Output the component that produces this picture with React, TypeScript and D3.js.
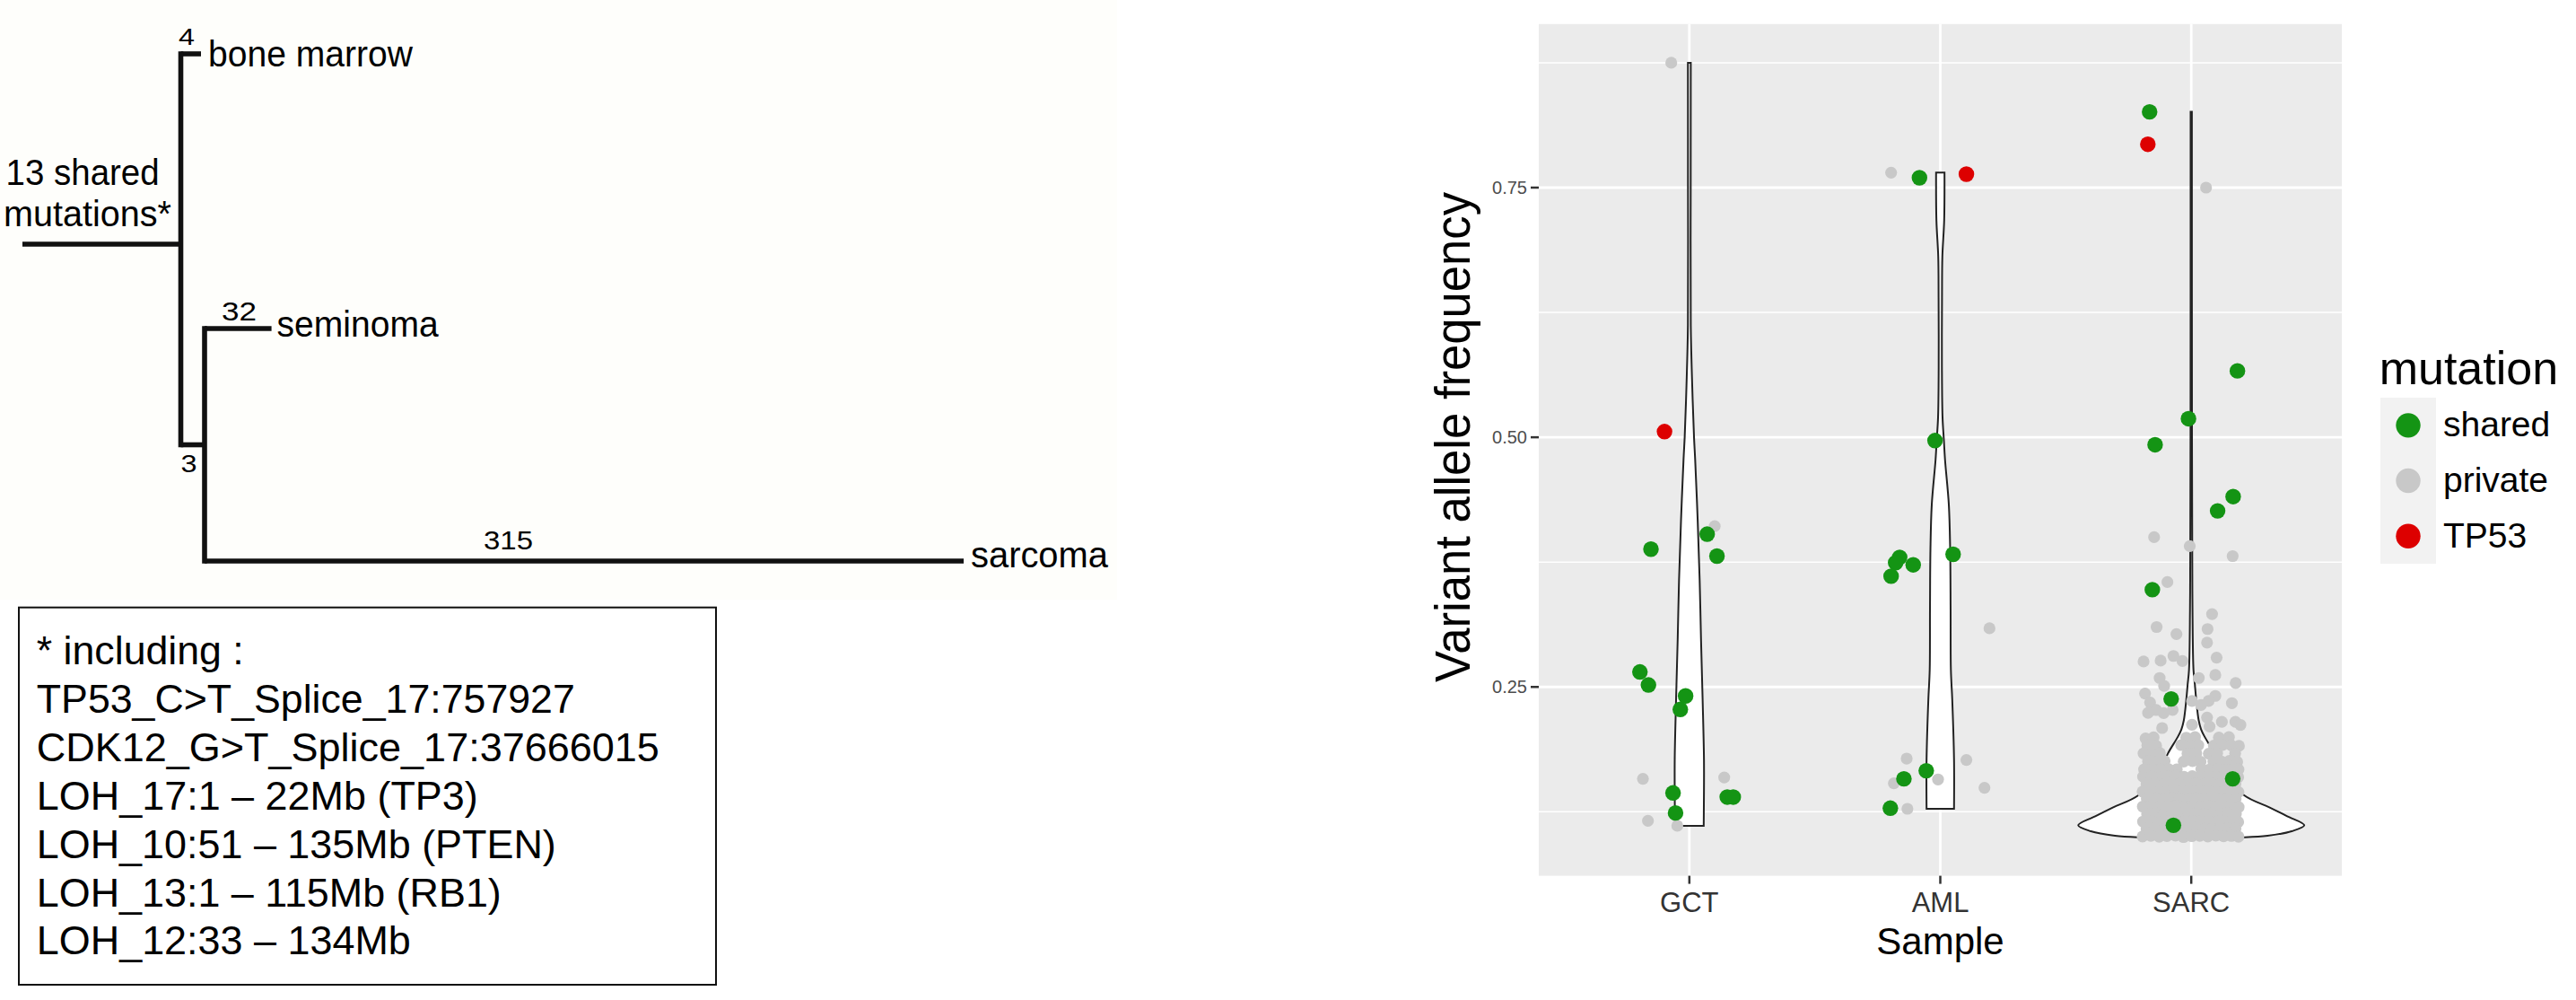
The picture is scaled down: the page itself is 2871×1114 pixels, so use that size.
import React from "react";
import * as d3 from "d3";

const W = 2871;
const H = 1114;
const FONT = "'Liberation Sans', Arial, Helvetica, sans-serif";

/* ---------------- phylogenetic tree (left) ---------------- */
// depth and row (tree display units)
const treeNodes = [
  { id: "origin", parent: "", depth: 0, row: 272, count: 0 },
  { id: "N1", parent: "origin", depth: 176.5, row: 272, count: 13 },
  { id: "bone marrow", parent: "N1", depth: 199, row: 60, count: 4 },
  { id: "N2", parent: "N1", depth: 203, row: 495.5, count: 3 },
  { id: "seminoma", parent: "N2", depth: 277.6, row: 366, count: 32 },
  { id: "sarcoma", parent: "N2", depth: 1049, row: 625, count: 315 },
];
const leafNames = ["bone marrow", "seminoma", "sarcoma"];
const leafWidths = [228, 180, 153];
const leafBaselineShift = [14, 9, 7];
const rootLabelLines = ["13 shared", "mutations*"];
const rootLabelWidths = [171, 187];
const footnoteLines = [
  "* including :",
  "TP53_C>T_Splice_17:757927",
  "CDK12_G>T_Splice_17:37666015",
  "LOH_17:1 \u2013 22Mb (TP3)",
  "LOH_10:51 \u2013 135Mb (PTEN)",
  "LOH_13:1 \u2013 115Mb (RB1)",
  "LOH_12:33 \u2013 134Mb",
];
const footnoteWidths = [231, 600, 694, 492, 579, 518, 417];

/* ---------------- violin + jitter chart (right) ---------------- */
const samples = ["GCT", "AML", "SARC"];
const mutationTypes = ["shared", "private", "TP53"];
const typeColors = ["#149414", "#C8C8C8", "#DD0000"];
const typeRadius = [8.7, 6.6, 8.7];
const yTicks = [0.25, 0.5, 0.75];
const yTickLabels = ["0.25", "0.50", "0.75"];
const yMinorTicks = [0.125, 0.375, 0.625, 0.875];

// [jitter offset (category units), VAF, type]
const gctPoints: [number, number, string][] = [
  [-0.072, 0.875, "private"],
  [0.101, 0.411, "private"],
  [-0.185, 0.158, "private"],
  [0.139, 0.1594, "private"],
  [-0.165, 0.116, "private"],
  [-0.048, 0.111, "private"],
  [0.071, 0.403, "shared"],
  [-0.153, 0.388, "shared"],
  [0.11, 0.381, "shared"],
  [-0.197, 0.265, "shared"],
  [-0.163, 0.252, "shared"],
  [-0.015, 0.241, "shared"],
  [-0.036, 0.2275, "shared"],
  [-0.065, 0.1439, "shared"],
  [0.151, 0.1397, "shared"],
  [0.175, 0.1397, "shared"],
  [-0.055, 0.1238, "shared"],
  [-0.099, 0.5057, "TP53"],
];

const amlPoints: [number, number, string][] = [
  [-0.196, 0.765, "private"],
  [0.196, 0.3087, "private"],
  [-0.134, 0.1783, "private"],
  [0.104, 0.1769, "private"],
  [-0.009, 0.1574, "private"],
  [-0.185, 0.1535, "private"],
  [0.176, 0.149, "private"],
  [-0.131, 0.128, "private"],
  [-0.083, 0.7599, "shared"],
  [-0.021, 0.4967, "shared"],
  [-0.162, 0.3798, "shared"],
  [-0.178, 0.3744, "shared"],
  [-0.108, 0.3723, "shared"],
  [-0.196, 0.3609, "shared"],
  [0.051, 0.3828, "shared"],
  [-0.056, 0.1661, "shared"],
  [-0.145, 0.158, "shared"],
  [-0.199, 0.1286, "shared"],
  [0.104, 0.7635, "TP53"],
];

const sarcShared: [number, number, string][] = [
  [-0.166, 0.8258, "shared"],
  [0.184, 0.5665, "shared"],
  [-0.011, 0.5186, "shared"],
  [-0.144, 0.4925, "shared"],
  [0.167, 0.4406, "shared"],
  [0.105, 0.4263, "shared"],
  [-0.155, 0.3474, "shared"],
  [-0.08, 0.238, "shared"],
  [0.165, 0.158, "shared"],
  [-0.071, 0.1115, "shared"],
  [-0.173, 0.7934, "TP53"],
];

// private SARC mutations: [jitter offset, VAF]
const sarcPrivate: [number, number][] = [
  [0.059, 0.75], [-0.148, 0.4], [-0.006, 0.391], [0.165, 0.381], [-0.095, 0.355],
  [0.083, 0.323], [0.065, 0.308], [-0.138, 0.31], [-0.059, 0.303], [0.063, 0.2944],
  [-0.19, 0.2755], [-0.122, 0.2764], [-0.071, 0.281], [-0.035, 0.276], [0.101, 0.2794],
  [0.096, 0.262], [0.03, 0.259], [-0.126, 0.259], [0.177, 0.254], [-0.108, 0.251],
  [-0.184, 0.2434], [-0.164, 0.2344], [0.096, 0.241], [0.069, 0.2359], [0.003, 0.2359],
  [0.039, 0.232], [0.162, 0.2338], [-0.14, 0.2269], [-0.11, 0.2239], [-0.074, 0.227],
  [-0.172, 0.224], [0.063, 0.2194], [0.122, 0.215], [0.176, 0.215], [0.196, 0.212],
  [-0.182, 0.1985], [-0.116, 0.2089], [0.003, 0.2122], [0.073, 0.2104],
  // 0.165 - 0.20
  [-0.15, 0.1995], [-0.02, 0.1992], [0.015, 0.1998], [0.11, 0.1994], [0.15, 0.1997],
  [-0.175, 0.1915], [-0.14, 0.1911], [-0.04, 0.1918], [-0.005, 0.1913], [0.028, 0.1917],
  [0.09, 0.1912], [0.125, 0.1919], [0.16, 0.1914], [0.19, 0.191],
  [-0.19, 0.1835], [-0.158, 0.1831], [-0.125, 0.1838], [-0.015, 0.1833], [0.02, 0.1837],
  [0.07, 0.1832], [0.103, 0.1836], [0.175, 0.1834],
  [-0.172, 0.1755], [-0.14, 0.1751], [-0.106, 0.1758], [-0.03, 0.1753], [0.005, 0.1757],
  [0.037, 0.1752], [0.088, 0.1756], [0.12, 0.1754], [0.152, 0.1759], [0.183, 0.175],
  [-0.188, 0.1675], [-0.155, 0.1679], [-0.122, 0.1672], [-0.09, 0.1677], [-0.058, 0.1674],
  [0.04, 0.1678], [0.072, 0.1673], [0.104, 0.1676], [0.136, 0.1671], [0.168, 0.1679], [0.188, 0.1674],
  // dense mass 0.10 - 0.163
  [-0.192, 0.1602], [-0.159, 0.1609], [-0.126, 0.1598], [-0.094, 0.1606], [-0.061, 0.1611],
  [-0.029, 0.16], [0.004, 0.1607], [0.036, 0.1603], [0.068, 0.161], [0.1, 0.1599],
  [0.131, 0.1608], [0.162, 0.1604], [0.187, 0.1597],
  [-0.178, 0.1528], [-0.145, 0.1535], [-0.112, 0.1524], [-0.08, 0.1537], [-0.047, 0.1531],
  [-0.015, 0.1526], [0.018, 0.1534], [0.05, 0.1529], [0.082, 0.1533], [0.113, 0.1525],
  [0.145, 0.1536], [0.176, 0.153],
  [-0.194, 0.1452], [-0.161, 0.1459], [-0.128, 0.145], [-0.096, 0.1457], [-0.063, 0.1462],
  [-0.031, 0.1451], [0.002, 0.1458], [0.034, 0.1454], [0.066, 0.1461], [0.098, 0.1449],
  [0.129, 0.1456], [0.16, 0.1453], [0.188, 0.1448],
  [-0.177, 0.1378], [-0.144, 0.1384], [-0.111, 0.1375], [-0.079, 0.1387], [-0.046, 0.1381],
  [-0.014, 0.1376], [0.019, 0.1385], [0.051, 0.1379], [0.083, 0.1383], [0.114, 0.1374],
  [0.146, 0.1386], [0.177, 0.138],
  [-0.193, 0.1302], [-0.16, 0.1309], [-0.127, 0.1298], [-0.095, 0.1306], [-0.062, 0.1311],
  [-0.03, 0.13], [0.003, 0.1307], [0.035, 0.1303], [0.067, 0.131], [0.099, 0.1299],
  [0.13, 0.1308], [0.161, 0.1304], [0.189, 0.1297],
  [-0.176, 0.1228], [-0.143, 0.1234], [-0.11, 0.1225], [-0.078, 0.1237], [-0.045, 0.1231],
  [-0.013, 0.1226], [0.02, 0.1235], [0.052, 0.1229], [0.084, 0.1233], [0.115, 0.1224],
  [0.147, 0.1236], [0.178, 0.123],
  [-0.192, 0.1152], [-0.159, 0.116], [-0.126, 0.1149], [-0.094, 0.1157], [-0.06, 0.1163],
  [-0.029, 0.115], [0.004, 0.1158], [0.036, 0.1154], [0.068, 0.1161], [0.1, 0.1151],
  [0.131, 0.1159], [0.162, 0.1155], [0.187, 0.1148],
  [-0.178, 0.1078], [-0.146, 0.1085], [-0.112, 0.1074], [-0.08, 0.1089], [-0.047, 0.1081],
  [-0.015, 0.1076], [0.018, 0.1087], [0.05, 0.1079], [0.083, 0.1083], [0.113, 0.1075],
  [0.145, 0.1086], [0.176, 0.108],
  [-0.194, 0.1003], [-0.161, 0.101], [-0.128, 0.1001], [-0.097, 0.1007], [-0.063, 0.1012],
  [-0.031, 0.0997], [0.002, 0.1006], [0.034, 0.1009], [0.066, 0.1002], [0.098, 0.1011],
  [0.129, 0.1004], [0.16, 0.1008], [0.188, 0.1001],
];

// violin half-widths (category units): [VAF, half width]
const gctViolin: [number, number][] = [
  [0.111, 0.0572], [0.1325, 0.0579], [0.177, 0.0583], [0.2374, 0.0529], [0.2975, 0.0465],
  [0.357, 0.0411], [0.417, 0.0332], [0.4775, 0.0232], [0.5, 0.0186], [0.552, 0.0114],
  [0.612, 0.0057], [0.75, 0.0054], [0.875, 0.0057],
];
const amlViolin: [number, number][] = [
  [0.128, 0.0547], [0.1774, 0.0547], [0.2374, 0.0476], [0.267, 0.0422], [0.327, 0.0411],
  [0.3876, 0.0393], [0.4326, 0.034], [0.477, 0.019], [0.497, 0.0143], [0.52, 0.0089],
  [0.57, 0.0064], [0.64, 0.0068], [0.681, 0.0082], [0.717, 0.0154], [0.765, 0.0168],
];
const sarcViolin: [number, number][] = [
  [0.0995, 0.2145], [0.101, 0.304], [0.1055, 0.4], [0.1115, 0.4505], [0.1205, 0.3826],
  [0.1295, 0.311], [0.1415, 0.211], [0.1654, 0.125], [0.1834, 0.093], [0.2, 0.0536],
  [0.2075, 0.0393], [0.2165, 0.0297], [0.2374, 0.0197], [0.2527, 0.0143], [0.267, 0.0089],
  [0.327, 0.005], [0.3876, 0.0039], [0.5, 0.0029], [0.826, 0.0025],
];

export default function App() {
  /* ----- tree scales ----- */
  const tx = d3.scaleLinear().domain([0, 1049]).range([25, 1074]);
  const ty = d3.scaleLinear().domain([0, H]).range([0, H]);
  const byId = new Map(treeNodes.map((n) => [n.id, n]));
  const children = d3.group(treeNodes.filter((n) => n.parent), (n) => n.parent);
  const treeSW = 5.6;

  const treePaths: string[] = [];
  treeNodes.forEach((n) => {
    if (!n.parent) return;
    const p = byId.get(n.parent)!;
    treePaths.push(`M${tx(p.depth)},${ty(n.row)}H${tx(n.depth)}`);
  });
  children.forEach((kids, pid) => {
    const p = byId.get(pid)!;
    if (kids.length < 2) return;
    const ext = d3.extent(kids, (k) => k.row) as [number, number];
    treePaths.push(`M${tx(p.depth)},${ty(ext[0]) - treeSW / 2}V${ty(ext[1]) + treeSW / 2}`);
  });

  /* ----- chart scales ----- */
  const panel = { left: 1715, right: 2610, top: 26.8, bottom: 975.6 };
  const allVaf = [
    ...gctPoints.map((d) => d[1]),
    ...amlPoints.map((d) => d[1]),
    ...sarcShared.map((d) => d[1]),
    ...sarcPrivate.map((d) => d[1]),
  ];
  const [vmin, vmax] = d3.extent(allVaf) as [number, number];
  const pad = (vmax - vmin) * 0.05;
  const y = d3.scaleLinear().domain([vmin - pad, vmax + pad]).range([panel.bottom, panel.top]);
  const x = d3.scalePoint<string>().domain(samples).range([panel.left, panel.right]).padding(0.6);
  const step = x.step();
  const color = d3.scaleOrdinal<string, string>().domain(mutationTypes).range(typeColors);
  const radius = d3.scaleOrdinal<string, number>().domain(mutationTypes).range(typeRadius);

  const violins: [string, [number, number][]][] = [
    ["GCT", gctViolin],
    ["AML", amlViolin],
    ["SARC", sarcViolin],
  ];
  const violinPath = (cat: string, prof: [number, number][]) =>
    d3
      .area<[number, number]>()
      .y((d) => y(d[0]))
      .x0((d) => (x(cat) as number) - d[1] * step)
      .x1((d) => (x(cat) as number) + d[1] * step)
      .curve(d3.curveCatmullRom.alpha(0.5))(prof) as string;

  type Pt = { cat: string; dx: number; v: number; t: string };
  const pts: Pt[] = [
    ...gctPoints.map((d) => ({ cat: "GCT", dx: d[0], v: d[1], t: d[2] })),
    ...amlPoints.map((d) => ({ cat: "AML", dx: d[0], v: d[1], t: d[2] })),
    ...sarcPrivate.map((d) => ({ cat: "SARC", dx: d[0], v: d[1], t: "private" })),
    ...sarcShared.map((d) => ({ cat: "SARC", dx: d[0], v: d[1], t: d[2] })),
  ];
  const order = (t: string) => (t === "private" ? 0 : t === "shared" ? 1 : 2);
  const sortedPts = pts.slice().sort((a, b) => order(a.t) - order(b.t));

  const legend = { x: 2653, y: 443, keyW: 62, keyH: 61.7 };

  return (
    <div>
      <style>{`body{margin:0;padding:0;overflow:hidden;background:#fff}`}</style>
      <svg width={W} height={H} style={{ display: "block" }} fontFamily={FONT}>
        <rect x={0} y={0} width={W} height={H} fill="#ffffff" />
        {/* ---------- tree ---------- */}
        <rect x={0} y={0} width={1245} height={668} fill="#FEFEFB" />
        <g stroke="#111" strokeWidth={treeSW} fill="none">
          {treePaths.map((d, i) => (
            <path key={i} d={d} />
          ))}
        </g>
        {/* branch counts */}
        <text x={208} y={50} fontSize={26} textAnchor="middle" textLength={18} lengthAdjust="spacingAndGlyphs">
          {byId.get("bone marrow")!.count}
        </text>
        <text x={210.5} y={526} fontSize={28} textAnchor="middle" textLength={18} lengthAdjust="spacingAndGlyphs">
          {byId.get("N2")!.count}
        </text>
        <text x={266.5} y={357} fontSize={29} textAnchor="middle" textLength={39} lengthAdjust="spacingAndGlyphs">
          {byId.get("seminoma")!.count}
        </text>
        <text x={566.5} y={611.5} fontSize={29} textAnchor="middle" textLength={55} lengthAdjust="spacingAndGlyphs">
          {byId.get("sarcoma")!.count}
        </text>
        {rootLabelLines.map((s, i) => (
          <text key={s} x={i === 0 ? 6.6 : 4} y={206 + i * 46} fontSize={40} textLength={rootLabelWidths[i]} lengthAdjust="spacingAndGlyphs">
            {s}
          </text>
        ))}
        {leafNames.map((name, i) => {
          const n = byId.get(name)!;
          return (
            <text
              key={name}
              x={tx(n.depth) + (i === 1 ? 6 : 8)}
              y={ty(n.row) + leafBaselineShift[i]}
              fontSize={40}
              textLength={leafWidths[i]}
              lengthAdjust="spacingAndGlyphs"
            >
              {name}
            </text>
          );
        })}
        {/* footnote box */}
        <rect x={21} y={676.7} width={777} height={420.3} fill="#fff" stroke="#111" strokeWidth={2} />
        {footnoteLines.map((s, i) => (
          <text key={i} x={40.8} y={740 + i * 53.9} fontSize={45} textLength={footnoteWidths[i]} lengthAdjust="spacingAndGlyphs">
            {s}
          </text>
        ))}

        {/* ---------- violin chart ---------- */}
        <rect x={panel.left} y={panel.top} width={panel.right - panel.left} height={panel.bottom - panel.top} fill="#EBEBEB" />
        {yMinorTicks.map((t) => (
          <line key={t} x1={panel.left} x2={panel.right} y1={y(t)} y2={y(t)} stroke="#fff" strokeWidth={1.5} />
        ))}
        {yTicks.map((t) => (
          <line key={t} x1={panel.left} x2={panel.right} y1={y(t)} y2={y(t)} stroke="#fff" strokeWidth={2.8} />
        ))}
        {samples.map((s) => (
          <line key={s} x1={x(s)} x2={x(s)} y1={panel.top} y2={panel.bottom} stroke="#fff" strokeWidth={2.8} />
        ))}
        {violins.map(([cat, prof]) => (
          <path key={cat} d={violinPath(cat, prof)} fill="#fff" stroke="#222" strokeWidth={2} />
        ))}
        {sortedPts.map((p, i) => (
          <circle
            key={i}
            cx={(x(p.cat) as number) + p.dx * step}
            cy={y(p.v)}
            r={radius(p.t)}
            fill={color(p.t)}
          />
        ))}
        {/* axes */}
        {yTicks.map((t, i) => (
          <g key={t}>
            <line x1={panel.left - 9} x2={panel.left} y1={y(t)} y2={y(t)} stroke="#333" strokeWidth={2.5} />
            <text x={panel.left - 13} y={y(t) + 7} fontSize={20} textAnchor="end" fill="#4D4D4D">
              {yTickLabels[i]}
            </text>
          </g>
        ))}
        {samples.map((s) => (
          <g key={s}>
            <line x1={x(s)} x2={x(s)} y1={panel.bottom} y2={panel.bottom + 9} stroke="#333" strokeWidth={2.5} />
            <text x={x(s)} y={1016} fontSize={31} textAnchor="middle" fill="#333">
              {s}
            </text>
          </g>
        ))}
        <text x={(panel.left + panel.right) / 2} y={1063} fontSize={42} textAnchor="middle" fill="#000">
          Sample
        </text>
        <text
          transform={`translate(1638,487) rotate(-90)`}
          fontSize={56}
          textAnchor="middle"
          fill="#000"
          textLength={546}
          lengthAdjust="spacingAndGlyphs"
        >
          Variant allele frequency
        </text>

        {/* legend */}
        <text x={2651.7} y={428} fontSize={52} fill="#000">
          mutation
        </text>
        <rect x={legend.x} y={legend.y} width={legend.keyW} height={legend.keyH * 3} fill="#F2F2F2" />
        {mutationTypes.map((t, i) => (
          <g key={t}>
            <circle cx={legend.x + legend.keyW / 2} cy={legend.y + legend.keyH * (i + 0.5)} r={13.7} fill={color(t)} />
            <text x={2723} y={legend.y + legend.keyH * (i + 0.5) + 12.5} fontSize={39} fill="#000">
              {t}
            </text>
          </g>
        ))}
      </svg>
    </div>
  );
}
